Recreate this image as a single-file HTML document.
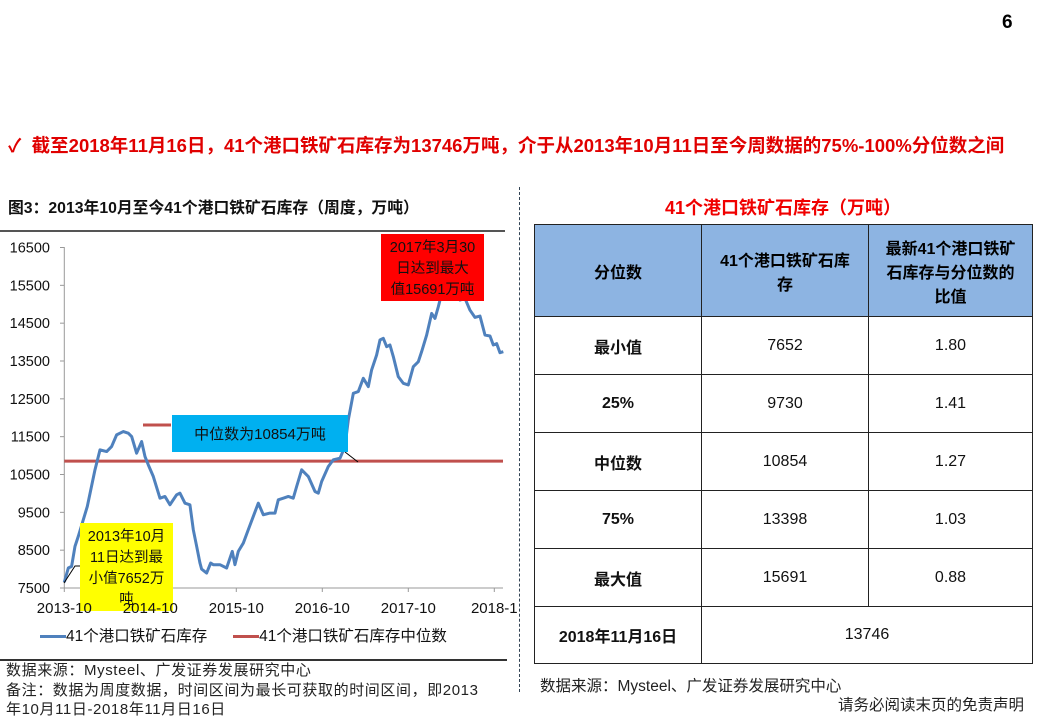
<!DOCTYPE html>
<html><head><meta charset="utf-8"><style>
body{margin:0;width:1039px;height:719px;background:#fff;position:relative;overflow:hidden;font-family:"Liberation Sans","Noto Sans CJK SC",sans-serif;}
.a{position:absolute;}
table{border-collapse:collapse;}
td{border:1px solid #222;text-align:center;font-size:16px;color:#111;padding:0;}
th{border:1px solid #222;background:#8db4e2;font-size:16px;font-weight:bold;padding:0;}
.b{font-weight:bold;}
</style></head><body>
<div class="a b" style="left:1002px;top:12px;font-size:19px;">6</div>
<div class="a b" style="left:8px;top:132px;font-size:18.5px;color:#e00000;white-space:nowrap;">✓&nbsp;&nbsp;截至2018年11月16日，41个港口铁矿石库存为13746万吨，介于从2013年10月11日至今周数据的75%-100%分位数之间</div>
<div class="a b" style="left:8px;top:195px;font-size:15.8px;white-space:nowrap;color:#111;">图3：2013年10月至今41个港口铁矿石库存（周度，万吨）</div>
<div class="a" style="left:0;top:230px;width:505px;height:2px;background:#555;"></div>
<div class="a" style="left:519px;top:187px;height:505px;border-left:1px dashed #345;"></div>
<svg class="a" style="left:0;top:0" width="519" height="660" id="chart"></svg>
<div class="a" style="left:40px;top:624px;font-size:15.5px;white-space:nowrap;color:#111;">
<span style="display:inline-block;width:26px;height:3px;background:#4f81bd;vertical-align:middle"></span>41个港口铁矿石库存&nbsp;&nbsp;&nbsp;&nbsp;&nbsp;&nbsp;<span style="display:inline-block;width:26px;height:3px;background:#c0504d;vertical-align:middle"></span>41个港口铁矿石库存中位数</div>
<div class="a" style="left:0;top:659px;width:507px;height:2px;background:#333;"></div>
<div class="a" style="left:6px;top:661px;font-size:15px;letter-spacing:0.6px;line-height:19.5px;color:#222;width:510px;white-space:nowrap;">数据来源：Mysteel、广发证券发展研究中心<br>备注：数据为周度数据，时间区间为最长可获取的时间区间，即2013<br>年10月11日-2018年11月日16日</div>
<div class="a b" style="left:534px;width:498px;text-align:center;top:194px;font-size:18px;color:#f00000;">41个港口铁矿石库存（万吨）</div>
<table class="a" style="left:534px;top:224px;width:499px;">
<tr style="height:92px"><th style="width:166px">分位数</th><th style="width:166px">41个港口铁矿石库<br>存</th><th>最新41个港口铁矿<br>石库存与分位数的<br>比值</th></tr>
<tr style="height:58px"><td class="b">最小值</td><td>7652</td><td>1.80</td></tr>
<tr style="height:58px"><td class="b">25%</td><td>9730</td><td>1.41</td></tr>
<tr style="height:58px"><td class="b">中位数</td><td>10854</td><td>1.27</td></tr>
<tr style="height:58px"><td class="b">75%</td><td>13398</td><td>1.03</td></tr>
<tr style="height:58px"><td class="b">最大值</td><td>15691</td><td>0.88</td></tr>
<tr style="height:57px"><td class="b">2018年11月16日</td><td colspan="2">13746</td></tr>
</table>
<div class="a" style="left:540px;top:674px;font-size:15.5px;color:#222;white-space:nowrap;">数据来源：Mysteel、广发证券发展研究中心</div>
<div class="a" style="left:838px;top:693px;font-size:15.5px;color:#222;white-space:nowrap;">请务必阅读末页的免责声明</div>
<script>
const months=[0,0.56,1.02,1.49,1.95,3.21,4.28,4.98,5.91,6.6,7.3,8.23,8.93,9.4,10.09,10.79,11.26,11.72,12.42,13.35,14.05,14.74,15.67,16.14,16.84,17.53,18.0,18.47,18.93,19.16,19.86,20.42,20.79,21.72,22.65,23.44,23.81,24.28,24.98,25.67,26.37,27.07,27.77,28.7,29.4,29.86,30.56,31.26,31.95,32.42,33.12,34.05,34.98,35.44,35.91,36.84,37.53,38.47,39.16,39.63,40.33,41.02,41.72,42.42,42.88,43.58,44.05,44.51,44.98,45.44,45.91,46.6,47.3,48.0,48.7,49.4,49.86,50.56,51.26,51.72,52.19,52.65,53.81,55.21,55.91,56.6,57.3,58.0,58.7,59.4,59.86,60.33,60.79,61.26];
const values=[7652,8028,8072,8600,8864,9656,10623,11151,11107,11239,11547,11635,11591,11503,11063,11371,10975,10755,10447,9875,9919,9700,9963,10007,9743,9700,9040,8600,8160,8000,7896,8160,8116,8116,8028,8468,8116,8468,8688,9040,9392,9743,9436,9480,9480,9832,9875,9919,9875,10183,10623,10447,10051,10007,10315,10711,10887,10931,11239,11943,12647,12691,13043,12823,13263,13659,14055,14099,13879,13923,13615,13087,12911,12867,13351,13483,13747,14186,14758,14626,14934,15286,15691,15110,15154,14846,14653,14688,14186,14160,13923,13960,13720,13746];
const yTicks=[7500,8500,9500,10500,11500,12500,13500,14500,15500,16500];
const xTickMonths=[0,12,24,36,48,60];
const xTickLabels=["2013-10","2014-10","2015-10","2016-10","2017-10","2018-1"];
const median=10854;
const svg=document.getElementById('chart');const NS='http://www.w3.org/2000/svg';
const X=m=>64.3+m*(86/12), Y=v=>588-(v-7500)*(340.5/9000);
function mk(t,a,p){const e=document.createElementNS(NS,t);for(const k in a)e.setAttribute(k,a[k]);(p||svg).appendChild(e);return e;}
let e=mk('line',{x1:64.3,y1:247,x2:64.3,y2:588,stroke:'#999'});


e=mk('line',{x1:64.3,y1:588,x2:503,y2:588,stroke:'#999'});


yTicks.forEach(v=>{mk('line',{x1:60,y1:Y(v),x2:64.3,y2:Y(v),stroke:'#999'});
const t=mk('text',{x:50,y:Y(v)+5,'text-anchor':'end','font-size':14.5,fill:'#111'});t.textContent=v;

});
xTickMonths.forEach((m,i)=>{mk('line',{x1:X(m),y1:588,x2:X(m),y2:592,stroke:'#999'});});
e=mk('line',{x1:64.3,y1:Y(median),x2:503,y2:Y(median),stroke:'#c0504d','stroke-width':3});


mk('line',{x1:143,y1:425,x2:171,y2:425,stroke:'#c0504d','stroke-width':3});
e=mk('polyline',{points:months.map((m,i)=>X(m)+','+Y(values[i])).join(' '),fill:'none',stroke:'#4f81bd','stroke-width':3,'stroke-linejoin':'round'});


mk('polyline',{points:'64,583 75,566 80,566',fill:'none',stroke:'#000','stroke-width':1});
mk('line',{x1:345,y1:452,x2:358,y2:462,stroke:'#000','stroke-width':1});
function box(x,y,w,h,fill,lines,name,fs){const g=mk('g',{});
mk('rect',{x:x,y:y,width:w,height:h,fill:fill},g);
lines.forEach((l,i)=>{const t=mk('text',{x:x+w/2,y:y+18+i*21,'text-anchor':'middle','font-size':fs,fill:'#111'},g);t.textContent=l;});}
box(80,523,93,88,'#ffff00',['2013年10月','11日达到最','小值7652万','吨'],'min-callout',14.5);
box(381,234,103,67,'#ff0000',['2017年3月30','日达到最大','值15691万吨'],'max-callout',14.5);
const g=mk('g',{});
mk('rect',{x:172,y:415,width:176,height:37,fill:'#00b0f0'},g);
const t=mk('text',{x:260,y:439,'text-anchor':'middle','font-size':15,fill:'#111'},g);t.textContent='中位数为10854万吨';
xTickMonths.forEach((m,i)=>{const t=mk('text',{x:X(m),y:613,'text-anchor':'middle','font-size':15,fill:'#111'});t.textContent=xTickLabels[i];

});
</script>
</body></html>
